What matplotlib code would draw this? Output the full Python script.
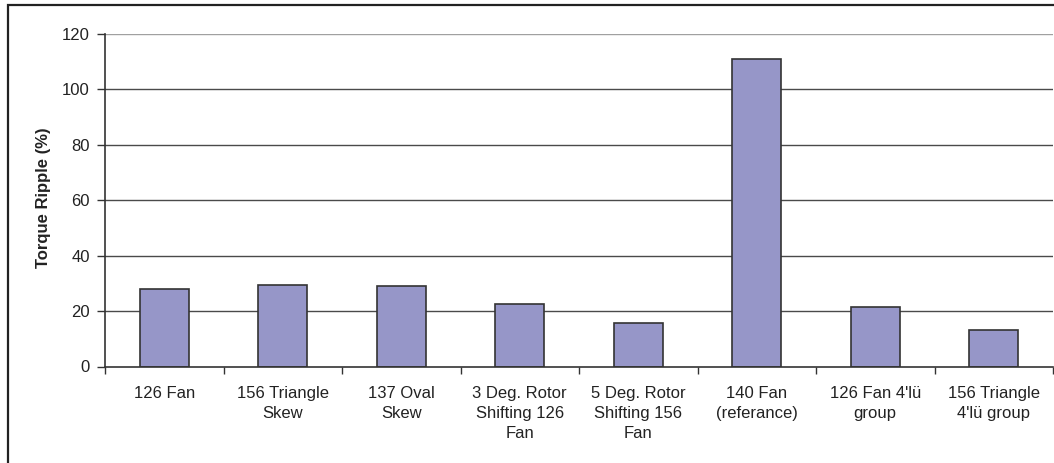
import matplotlib.pyplot as plt
import numpy as np
from matplotlib.patches import Rectangle

plt.rcParams["font.family"] = ["Liberation Sans", "DejaVu Sans"]

categories = [
    "126 Fan",
    "156 Triangle\nSkew",
    "137 Oval\nSkew",
    "3 Deg. Rotor\nShifting 126\nFan",
    "5 Deg. Rotor\nShifting 156\nFan",
    "140 Fan\n(referance)",
    "126 Fan 4'lü\ngroup",
    "156 Triangle\n4'lü group",
]
torque_ripple = [28.0, 29.5, 29.0, 22.5, 15.6, 110.8, 21.5, 13.0]
y_ticks = [0, 20, 40, 60, 80, 100, 120]

fig = plt.figure(figsize=(10.54, 4.63), dpi=100)
ax = fig.add_axes([105 / 1054, 1 - 366.5 / 463, 948 / 1054, 332.5 / 463])

x = np.arange(len(categories))

# horizontal grid lines, top one drawn lighter
for v in y_ticks[1:]:
    ax.axhline(v, color="#a0a0a0" if v == y_ticks[-1] else "#4a4a4a",
               lw=1.0, zorder=1)

ax.bar(x, torque_ripple, width=0.415, color="#9696c8", edgecolor="#333333",
       linewidth=1.2, zorder=2)

ax.set_xlim(-0.5, len(categories) - 0.5)
ax.set_ylim(0, 120)
ax.set_yticks(y_ticks)
ax.set_yticklabels([str(v) for v in y_ticks], fontsize=12, color="#222222")

# ticks on category boundaries, labels centred under bars
ax.set_xticks(np.arange(len(categories) + 1) - 0.5)
ax.set_xticklabels([])
ax.set_xticks(x, minor=True)
ax.set_xticklabels(categories, minor=True, fontsize=12, color="#222222",
                   linespacing=1.42, va="top")
ax.tick_params(axis="x", which="minor", length=0, pad=14)
ax.tick_params(axis="x", which="major", length=5, width=1.0, color="#333333")
ax.tick_params(axis="y", length=6, width=1.0, color="#333333", pad=5)

for side in ["top", "right"]:
    ax.spines[side].set_visible(False)
for side in ["left", "bottom"]:
    ax.spines[side].set_color("#333333")
    ax.spines[side].set_linewidth(1.2)

ax.set_ylabel("Torque Ripple (%)", fontsize=12, fontweight="bold",
              color="#222222")
ax.yaxis.set_label_coords(-0.057, 0.508)

# chart frame
fig.patches.append(Rectangle((8 / 1054, -0.1), 1.2, 1 - 5 / 463 + 0.1,
                             transform=fig.transFigure, fill=False,
                             edgecolor="#222222", lw=1.6))

fig.savefig("out.png", dpi=100)
